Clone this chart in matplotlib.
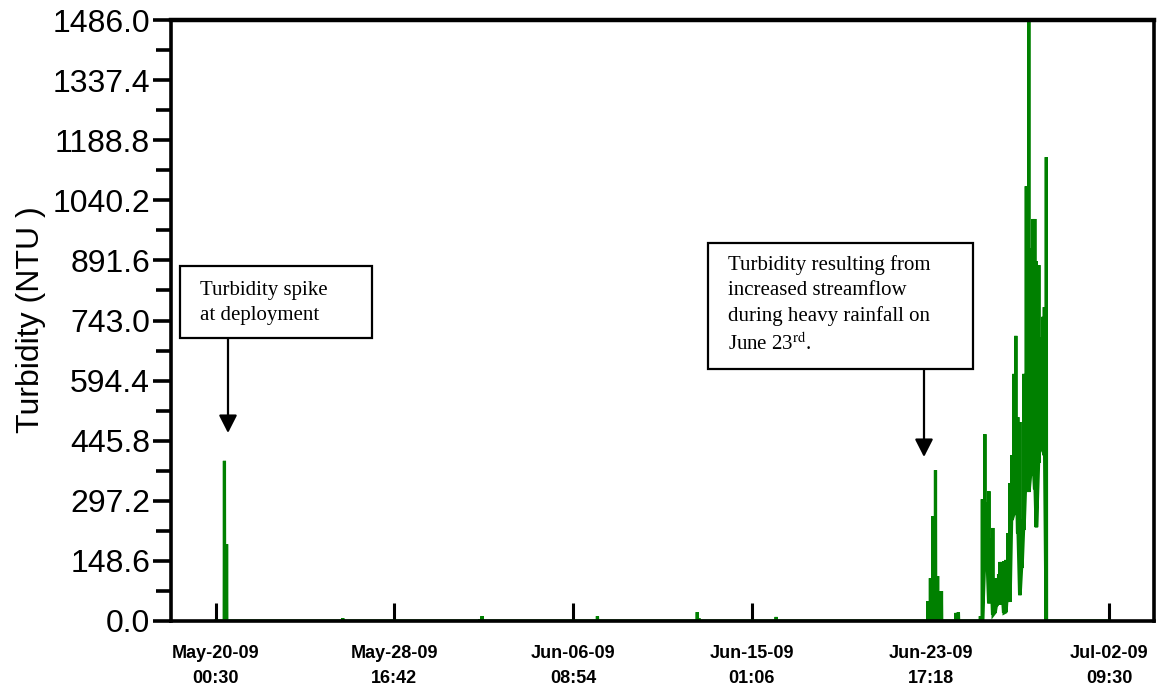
import datetime as dt
import matplotlib
matplotlib.use("Agg")
import matplotlib.pyplot as plt
from matplotlib.patches import Rectangle

plt.rcParams["mathtext.fontset"] = "stix"

# ---------------- data ----------------
start_time = dt.datetime(2009, 5, 20, 0, 30)
end_time = dt.datetime(2009, 7, 2, 9, 30)

# turbidity events: hours since deployment, lower and upper value of each trace column (NTU)
event_hours = [9.9, 12.4, 147.7, 307.7, 310.0, 444.4, 560.7, 563.0, 652.6,
               829.4, 832.3, 835.2, 838.2, 840.7, 842.8, 845.2, 862.0, 864.9,
               890.5, 892.8, 895.7, 898.1, 900.4, 902.7, 905.0, 907.4, 909.3,
               911.7, 913.2, 915.5, 917.8, 920.2, 922.5, 924.8, 927.2, 929.5,
               931.8, 934.1, 936.5, 938.8, 941.1, 944.0, 946.9, 949.3, 951.6,
               953.9, 955.7, 958.6, 961.2, 963.2, 965.0, 967.3]
event_low = [0, 0, 0, 0, 0, 0, 0, 0, 0,
             0, 0, 0, 0, 0, 0, 0, 0, 0,
             0, 0, 146, 146, 44, 109, 15, 20, 37,
             59, 40, 77, 20, 22, 82, 47, 250, 262,
             386, 217, 64, 131, 225, 368, 319, 361, 398,
             326, 232, 391, 546, 420, 410, 0]
event_high = [396, 190, 7, 4, 12, 12, 22, 6, 10,
              49, 106, 259, 373, 111, 74, 74, 20, 22,
              12, 301, 462, 292, 321, 205, 230, 69, 106,
              116, 146, 146, 148, 151, 217, 341, 410, 611,
              705, 504, 492, 252, 611, 1075, 1486, 922, 994,
              994, 890, 880, 700, 752, 776, 1147]

y_ticks = [0.0, 148.6, 297.2, 445.8, 594.4, 743.0, 891.6, 1040.2, 1188.8, 1337.4, 1486.0]
x_tick_labels = ["May-20-09\n00:30", "May-28-09\n16:42", "Jun-06-09\n08:54",
                 "Jun-15-09\n01:06", "Jun-23-09\n17:18", "Jul-02-09\n09:30"]

note1 = "Turbidity spike\nat deployment"
note2 = "Turbidity resulting from\nincreased streamflow\nduring heavy rainfall on\nJune 23$^{\\mathrm{rd}}$."

# ---------------- build trace ----------------
hours = [0.0]
vals = [0.0]
for h, lo, hi in zip(event_hours, event_low, event_high):
    hours += [h, h + 0.3, h + 0.6]
    vals += [lo, hi, lo]
total_h = (end_time - start_time).total_seconds() / 3600
hours.append(total_h)
vals.append(0.0)
times = [start_time + dt.timedelta(hours=h) for h in hours]

# ---------------- figure ----------------
W, H = 1157, 691
fig = plt.figure(figsize=(W / 100, H / 100), dpi=100)
ax = fig.add_axes([171 / W, 1 - 621 / H, (1154 - 171) / W, (621 - 20) / H])

ax.plot(times, vals, color="#008000", lw=2.3, solid_joinstyle="miter", zorder=2)

span = end_time - start_time
ax.set_xlim(start_time - span * 0.05, end_time + span * 0.05)
ax.set_ylim(0, 1486.0)

xt = [start_time + span * k / 5 for k in range(6)]
ax.set_xticks(xt)
ax.set_xticklabels(x_tick_labels, fontsize=13, fontweight="bold",
                   family="Liberation Sans", linespacing=1.65)
ax.tick_params(axis="x", direction="in", length=13, width=2.2, pad=17)

ax.set_yticks(y_ticks)
ax.set_yticklabels([f"{v:.1f}" for v in y_ticks], fontsize=23, family="Liberation Sans")
ax.set_yticks([(a + b) / 2 for a, b in zip(y_ticks[:-1], y_ticks[1:])], minor=True)
ax.tick_params(axis="y", which="major", direction="out", length=13, width=2.6, pad=2)
ax.tick_params(axis="y", which="minor", direction="out", length=11, width=2.6)

for s in ax.spines.values():
    s.set_linewidth(2.6)
    s.set_color("black")
ax.spines["top"].set_linewidth(3.2)

fig.text(31 / W, 1 - 320 / H, "Turbidity (NTU )", rotation=90, ha="center", va="center",
         fontsize=23, family="Liberation Sans")

def fx(px):
    return px / W

def fy(py):
    return 1 - py / H

# annotation 1
fig.add_artist(Rectangle((fx(180), fy(338)), fx(372) - fx(180), fy(266) - fy(338),
                         transform=fig.transFigure, fill=True, facecolor="white",
                         edgecolor="black", lw=1.6, zorder=5))
fig.text(fx(200), fy(303), note1, ha="left", va="center", fontsize=15,
         family="Liberation Serif", linespacing=1.45, zorder=6)
ax.annotate("", xy=(228, H - 433), xytext=(228, H - 338), xycoords="figure pixels",
            textcoords="figure pixels",
            arrowprops=dict(arrowstyle="-|>,head_length=1.08,head_width=0.55",
                            lw=1.6, color="black", shrinkA=0, shrinkB=0,
                            mutation_scale=10), zorder=6)

# annotation 2
fig.add_artist(Rectangle((fx(708), fy(369)), fx(973) - fx(708), fy(243) - fy(369),
                         transform=fig.transFigure, fill=True, facecolor="white",
                         edgecolor="black", lw=1.6, zorder=5))
fig.text(fx(728), fy(305), note2, ha="left", va="center", fontsize=15,
         family="Liberation Serif", linespacing=1.4, zorder=6)
ax.annotate("", xy=(924, H - 457), xytext=(924, H - 369), xycoords="figure pixels",
            textcoords="figure pixels",
            arrowprops=dict(arrowstyle="-|>,head_length=1.08,head_width=0.55",
                            lw=1.6, color="black", shrinkA=0, shrinkB=0,
                            mutation_scale=10), zorder=6)

fig.savefig("out.png", dpi=100)
